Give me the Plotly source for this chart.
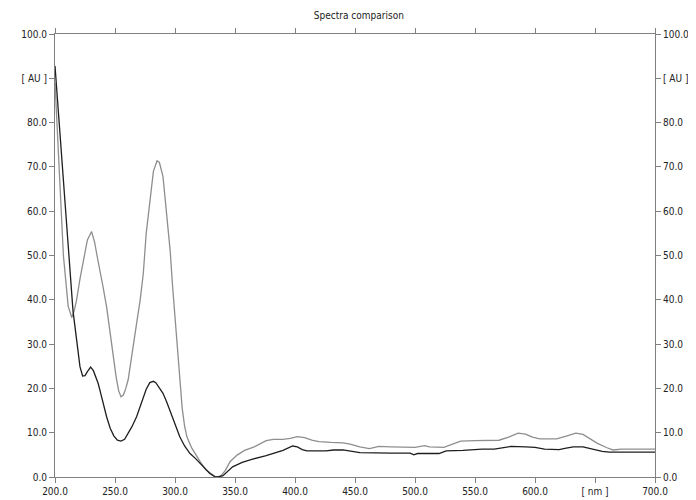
import plotly.graph_objects as go

# Sample 2 (lighter grey trace)
wl_gray = [200, 202, 204, 207, 211, 214, 216, 218, 221, 224, 227, 230.5, 233, 235, 237.5, 240, 243, 246, 248.6, 251, 253, 255, 257, 259, 261, 264, 268, 271, 273.6, 276, 279, 282, 285, 287, 290, 292, 294.5, 296, 298, 300, 302, 304, 306, 308, 310, 314, 318, 322, 326, 330, 334, 338, 342, 346, 352, 358, 366, 376, 382, 390, 396, 402, 408, 414, 420, 430, 440, 446, 454, 462, 470, 480, 490, 500, 508, 512, 524, 530, 538, 550, 560, 570, 578, 586, 592, 598, 604, 618, 626, 634, 640, 646, 652, 660, 665, 672, 685, 700]
au_gray = [89, 78, 66, 50, 38.5, 36, 37.5, 40, 45, 49.5, 53.5, 55.4, 53, 50, 46, 43, 38.4, 32, 27.2, 22.5, 19.5, 18.1, 18.5, 20, 22, 27, 34.7, 40, 46, 55, 62, 69, 71.4, 71, 67.8, 62, 56.5, 51, 43, 36, 28, 21, 15.5, 11.5, 9, 6.5, 4.6, 3, 1.6, 0.7, 0, 0.2, 1.5, 3.5, 5.0, 6.0, 6.8, 8.2, 8.5, 8.5, 8.7, 9.1, 8.9, 8.3, 8.0, 7.8, 7.7, 7.4, 6.8, 6.4, 6.9, 6.8, 6.7, 6.7, 7.1, 6.8, 6.7, 7.3, 8.1, 8.2, 8.2, 8.3, 9.0, 9.9, 9.7, 9.0, 8.6, 8.6, 9.2, 9.9, 9.6, 8.6, 7.6, 6.6, 6.1, 6.3, 6.3, 6.3]

# Sample 1 (dark trace)
wl_black = [200, 204, 208, 212, 215, 218, 220.8, 223, 225, 227, 229.7, 232, 234, 236, 238, 240, 243, 246, 249, 252, 255, 258, 261, 264, 268, 271, 273.6, 276, 279, 282, 284, 287, 290, 293, 295.8, 300, 304, 308, 312.5, 317, 321, 325, 329, 333, 336, 340, 344, 348, 356, 364, 376, 390, 398, 402, 406, 410, 426, 432, 440, 446, 454, 480, 496, 499, 502, 520, 526, 540, 556, 566, 574, 580, 592, 600, 608, 620, 626, 632, 640, 648, 656, 662, 700]
au_black = [92.8, 78, 63, 48.6, 37.5, 31, 24.9, 22.8, 22.9, 23.8, 24.8, 24, 22.5, 21.1, 19, 16.6, 13.6, 11, 9.3, 8.3, 8.1, 8.5, 9.8, 11.3, 13.6, 16, 18.1, 19.8, 21.3, 21.6, 21.3, 20.2, 18.9, 17, 15.1, 12, 9.1, 7, 5.3, 4.2, 3.1, 1.9, 0.8, 0.1, 0, 0.3, 1.3, 2.3, 3.3, 4.0, 4.8, 6.0, 7.0, 6.8, 6.2, 5.9, 5.9, 6.1, 6.1, 5.8, 5.5, 5.4, 5.4, 5.0, 5.3, 5.3, 5.9, 6.0, 6.3, 6.3, 6.7, 6.9, 6.8, 6.7, 6.3, 6.2, 6.5, 6.8, 6.8, 6.3, 5.8, 5.6, 5.6]

x_ticks = [200, 250, 300, 350, 400, 450, 500, 550, 600, 650, 700]
x_labels = ["200.0", "250.0", "300.0", "350.0", "400.0", "450.0", "500.0", "550.0", "600.0", "[ nm ]", "700.0"]
y_ticks = [0, 10, 20, 30, 40, 50, 60, 70, 80, 90, 100]
y_labels = ["0.0", "10.0", "20.0", "30.0", "40.0", "50.0", "60.0", "70.0", "80.0", "[ AU ]", "100.0"]

FONT = "DejaVu Sans Condensed, Liberation Sans Narrow, Liberation Sans, sans-serif"
AXC = "#808080"

fig = go.Figure()
fig.add_trace(go.Scatter(x=wl_gray, y=au_gray, mode="lines",
                         line=dict(color="#8e8e8e", width=1.3), yaxis="y", showlegend=False))
fig.add_trace(go.Scatter(x=wl_black, y=au_black, mode="lines",
                         line=dict(color="#1e1e1e", width=1.3), yaxis="y2", showlegend=False))

axis_common = dict(showgrid=False, zeroline=False, showline=True, linecolor=AXC, linewidth=1,
                   ticks="outside", ticklen=5, tickcolor=AXC, tickwidth=1, automargin=False,
                   tickfont=dict(family=FONT, size=10, color="#222"))

# page has an 8px body margin, so the figure is sized to fit the 696x500 window
fig.update_layout(
    width=688, height=492,
    margin=dict(l=47, r=41, t=26, b=23),
    paper_bgcolor="white", plot_bgcolor="white",
    title=dict(text="Spectra comparison", x=0.51, xanchor="center", y=0.992, yanchor="top",
               font=dict(family=FONT, size=10, color="#222")),
    xaxis=dict(range=[200, 700], tickvals=x_ticks, ticktext=x_labels, mirror="ticks", **axis_common),
    yaxis=dict(range=[0, 100], tickvals=y_ticks, ticktext=y_labels, **axis_common),
    yaxis2=dict(range=[0, 100], tickvals=y_ticks, ticktext=y_labels, overlaying="y", side="right",
                **axis_common),
)

fig.write_html("out.html")
